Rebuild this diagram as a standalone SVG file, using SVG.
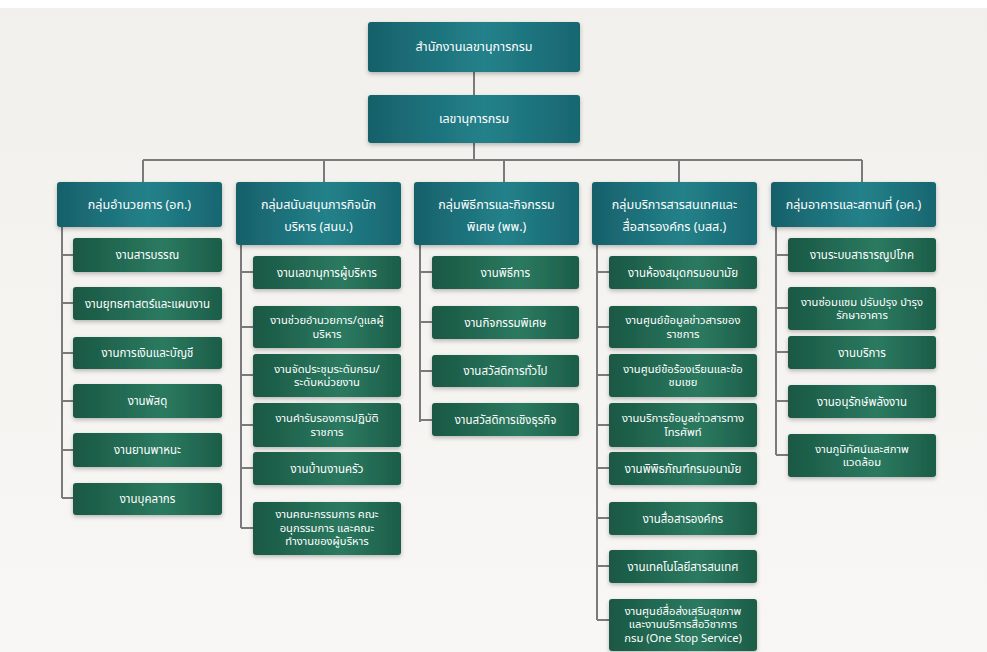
<svg xmlns="http://www.w3.org/2000/svg" width="987" height="652" viewBox="0 0 987 652">
<defs>
<linearGradient id="gHead" x1="0" y1="0" x2="1" y2="0">
<stop offset="0" stop-color="#17606a"/>
<stop offset="0.55" stop-color="#23818a"/>
<stop offset="1" stop-color="#186670"/>
</linearGradient>
<linearGradient id="gItem" x1="0" y1="0" x2="1" y2="0">
<stop offset="0" stop-color="#1a5844"/>
<stop offset="0.6" stop-color="#2b7a60"/>
<stop offset="1" stop-color="#1c5d49"/>
</linearGradient>
<linearGradient id="gBg" x1="0" y1="0" x2="0" y2="1">
<stop offset="0" stop-color="#f2f0ec"/>
<stop offset="1" stop-color="#f8f7f5"/>
</linearGradient>
<filter id="sh" x="-10%" y="-20%" width="120%" height="150%">
<feDropShadow dx="0" dy="2" stdDeviation="2" flood-color="#000" flood-opacity="0.25"/>
</filter>
<style>
.h{fill:url(#gHead);filter:url(#sh)}
.i{fill:url(#gItem);filter:url(#sh)}
text{font-family:"Noto Sans Thai","Noto Sans","DejaVu Sans",sans-serif;fill:#ffffff;text-anchor:middle}
.th{font-size:12.5px}
.ti{font-size:11.5px}
.tm{font-size:11.2px}
.c path{stroke:#7a7a7a;stroke-width:2;fill:none}
</style>
</defs>
<rect width="987" height="652" fill="#ffffff"/>
<rect x="0" y="8" width="987" height="644" fill="url(#gBg)"/>
<g class="c" id="connectors">
<path d="M474 72V95M474 143V160M143 160H862M143 160V182M324 160V182M504 160V182M679 160V182M862 160V182"/>
<path d="M62 227V498M62 255H73M62 303H73M62 353H73M62 401H73M62 450H73M62 498H73"/>
<path d="M241 245V528M241 272H253M241 327H253M241 375H253M241 425H253M241 468H253M241 528H253"/>
<path d="M420 245V422M420 272H432M420 322H432M420 371H432M420 420H432"/>
<path d="M597 245V620M597 272H609M597 327H609M597 375H609M597 425H609M597 468H609M597 518H609M597 566H609M597 620H609"/>
<path d="M776 227V455M776 255H788M776 308H788M776 352H788M776 401H788M776 455H788"/>
</g>
<g id="top1"><rect class="h" x="368" y="22" width="212" height="50" rx="3"/><text class="th" x="474" y="51">สำนักงานเลขานุการกรม</text></g>
<g id="top2"><rect class="h" x="368" y="95" width="212" height="48" rx="3"/><text class="th" x="474" y="123">เลขานุการกรม</text></g>

<g id="h1"><rect class="h" x="57" y="182" width="165" height="45" rx="3"/><text class="th" x="139.5" y="209">กลุ่มอำนวยการ (อก.)</text></g>
<g id="c1i1"><rect class="i" x="73" y="238" width="149" height="34" rx="3"/><text class="ti" x="147.5" y="259">งานสารบรรณ</text></g>
<g id="c1i2"><rect class="i" x="73" y="287" width="149" height="33" rx="3"/><text class="ti" x="147.5" y="307.5">งานยุทธศาสตร์และแผนงาน</text></g>
<g id="c1i3"><rect class="i" x="73" y="337" width="149" height="32" rx="3"/><text class="ti" x="147.5" y="357">งานการเงินและบัญชี</text></g>
<g id="c1i4"><rect class="i" x="73" y="384" width="149" height="34" rx="3"/><text class="ti" x="147.5" y="405">งานพัสดุ</text></g>
<g id="c1i5"><rect class="i" x="73" y="433" width="149" height="34" rx="3"/><text class="ti" x="147.5" y="454">งานยานพาหนะ</text></g>
<g id="c1i6"><rect class="i" x="73" y="483" width="149" height="32" rx="3"/><text class="ti" x="147.5" y="503">งานบุคลากร</text></g>

<g id="h2"><rect class="h" x="236" y="182" width="165" height="63" rx="3"/><text class="th" x="318.5" y="209">กลุ่มสนับสนุนภารกิจนัก</text><text class="th" x="318.5" y="231">บริหาร (สนบ.)</text></g>
<g id="c2i1"><rect class="i" x="253" y="256" width="148" height="33" rx="3"/><text class="ti" x="327" y="276.5">งานเลขานุการผู้บริหาร</text></g>
<g id="c2i2"><rect class="i" x="253" y="306" width="148" height="42" rx="3"/><text class="tm" x="327" y="324">งานช่วยอำนวยการ/ดูแลผู้</text><text class="tm" x="327" y="337.5">บริหาร</text></g>
<g id="c2i3"><rect class="i" x="253" y="354" width="148" height="43" rx="3"/><text class="tm" x="327" y="372.5">งานจัดประชุมระดับกรม/</text><text class="tm" x="327" y="386">ระดับหน่วยงาน</text></g>
<g id="c2i4"><rect class="i" x="253" y="403" width="148" height="44" rx="3"/><text class="tm" x="327" y="422">งานคำรับรองการปฏิบัติ</text><text class="tm" x="327" y="435.5">ราชการ</text></g>
<g id="c2i5"><rect class="i" x="253" y="452" width="148" height="33" rx="3"/><text class="ti" x="327" y="472.5">งานบ้านงานครัว</text></g>
<g id="c2i6"><rect class="i" x="253" y="502" width="148" height="53" rx="3"/><text class="tm" x="327" y="518">งานคณะกรรมการ คณะ</text><text class="tm" x="327" y="531.5">อนุกรรมการ และคณะ</text><text class="tm" x="327" y="545">ทำงานของผู้บริหาร</text></g>

<g id="h3"><rect class="h" x="414" y="182" width="165" height="63" rx="3"/><text class="th" x="496.5" y="209">กลุ่มพิธีการและกิจกรรม</text><text class="th" x="496.5" y="231">พิเศษ (พพ.)</text></g>
<g id="c3i1"><rect class="i" x="432" y="256" width="147" height="33" rx="3"/><text class="ti" x="505.5" y="276.5">งานพิธีการ</text></g>
<g id="c3i2"><rect class="i" x="432" y="306" width="147" height="33" rx="3"/><text class="ti" x="505.5" y="326.5">งานกิจกรรมพิเศษ</text></g>
<g id="c3i3"><rect class="i" x="432" y="355" width="147" height="32" rx="3"/><text class="ti" x="505.5" y="375">งานสวัสดิการทั่วไป</text></g>
<g id="c3i4"><rect class="i" x="432" y="403" width="147" height="33" rx="3"/><text class="ti" x="505.5" y="423.5">งานสวัสดิการเชิงธุรกิจ</text></g>

<g id="h4"><rect class="h" x="592" y="182" width="165" height="63" rx="3"/><text class="th" x="674.5" y="209">กลุ่มบริการสารสนเทศและ</text><text class="th" x="674.5" y="231">สื่อสารองค์กร (บสส.)</text></g>
<g id="c4i1"><rect class="i" x="609" y="256" width="148" height="33" rx="3"/><text class="ti" x="683" y="276.5">งานห้องสมุดกรมอนามัย</text></g>
<g id="c4i2"><rect class="i" x="609" y="306" width="148" height="42" rx="3"/><text class="tm" x="683" y="324">งานศูนย์ข้อมูลข่าวสารของ</text><text class="tm" x="683" y="337.5">ราชการ</text></g>
<g id="c4i3"><rect class="i" x="609" y="354" width="148" height="43" rx="3"/><text class="tm" x="683" y="372.5">งานศูนย์ข้อร้องเรียนและข้อ</text><text class="tm" x="683" y="386">ชมเชย</text></g>
<g id="c4i4"><rect class="i" x="609" y="403" width="148" height="44" rx="3"/><text class="tm" x="683" y="422">งานบริการข้อมูลข่าวสารทาง</text><text class="tm" x="683" y="435.5">โทรศัพท์</text></g>
<g id="c4i5"><rect class="i" x="609" y="452" width="148" height="33" rx="3"/><text class="ti" x="683" y="472.5">งานพิพิธภัณฑ์กรมอนามัย</text></g>
<g id="c4i6"><rect class="i" x="609" y="502" width="148" height="33" rx="3"/><text class="ti" x="683" y="522.5">งานสื่อสารองค์กร</text></g>
<g id="c4i7"><rect class="i" x="609" y="550" width="148" height="33" rx="3"/><text class="ti" x="683" y="570.5">งานเทคโนโลยีสารสนเทศ</text></g>
<g id="c4i8"><rect class="i" x="609" y="599" width="148" height="52" rx="3"/><text class="tm" x="683" y="614.5">งานศูนย์สื่อส่งเสริมสุขภาพ</text><text class="tm" x="683" y="628">และงานบริการสื่อวิชาการ</text><text class="tm" x="683" y="641.5">กรม (One Stop Service)</text></g>

<g id="h5"><rect class="h" x="771" y="182" width="165" height="45" rx="3"/><text class="th" x="853.5" y="209">กลุ่มอาคารและสถานที่ (อค.)</text></g>
<g id="c5i1"><rect class="i" x="788" y="238" width="148" height="34" rx="3"/><text class="ti" x="862" y="259">งานระบบสาธารณูปโภค</text></g>
<g id="c5i2"><rect class="i" x="788" y="287" width="148" height="43" rx="3"/><text class="tm" x="862" y="305.5">งานซ่อมแซม ปรับปรุง บำรุง</text><text class="tm" x="862" y="319">รักษาอาคาร</text></g>
<g id="c5i3"><rect class="i" x="788" y="336" width="148" height="33" rx="3"/><text class="ti" x="862" y="356.5">งานบริการ</text></g>
<g id="c5i4"><rect class="i" x="788" y="385" width="148" height="33" rx="3"/><text class="ti" x="862" y="405.5">งานอนุรักษ์พลังงาน</text></g>
<g id="c5i5"><rect class="i" x="788" y="434" width="148" height="43" rx="3"/><text class="tm" x="862" y="452.5">งานภูมิทัศน์และสภาพ</text><text class="tm" x="862" y="466">แวดล้อม</text></g>
</svg>
